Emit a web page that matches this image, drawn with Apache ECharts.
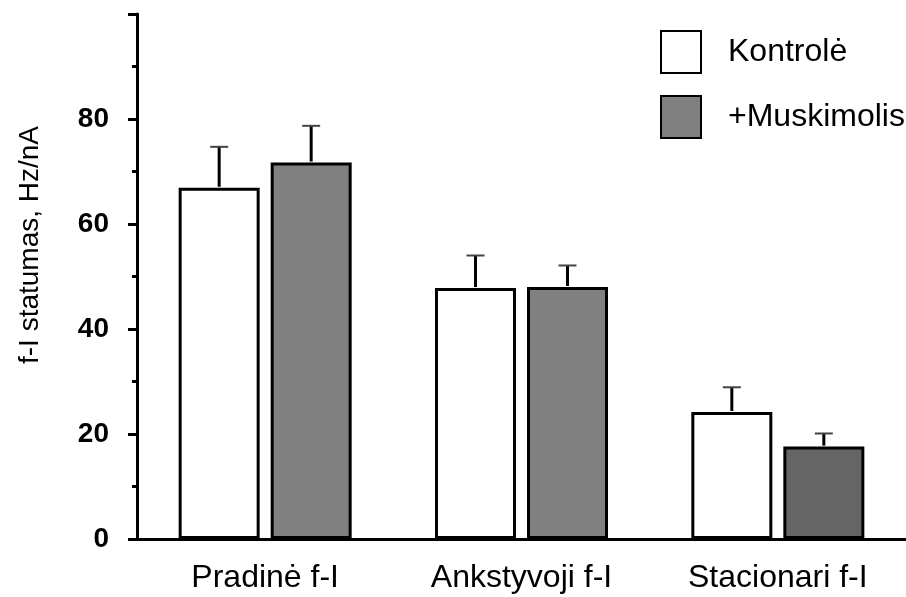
<!DOCTYPE html>
<html>
<head>
<meta charset="utf-8">
<script src="https://cdn.jsdelivr.net/npm/echarts@6/dist/echarts.min.js"></script>
<style>html,body{margin:0;padding:0;background:#fff}#c{width:906px;height:597px}</style>
</head>
<body>
<div id="c"></div>
<script>
const categories = ['Pradinė f-I', 'Ankstyvoji f-I', 'Stacionari f-I'];
const seriesNames = ['Kontrolė', '+Muskimolis'];
const kontrole = [66.9, 47.8, 24.2];
const kontroleErr = [7.8, 6.2, 4.7];
const muskimolis = [71.7, 48.0, 17.6];
const muskimolisErr = [7.0, 4.1, 2.5];
const yTicks = [0, 20, 40, 60, 80];
const yName = 'f-I statumas, Hz/nA';

const FONT = '"Liberation Sans", Arial, sans-serif';
const BAR_W = 81, GAP = 11;
const OFF = (BAR_W + GAP) / 2;

function errSeries(vals, errs, dir) {
  return {
    type: 'custom',
    z: 5,
    data: vals.map((v, i) => [i, v, v + errs[i]]),
    renderItem: function (params, api) {
      const p0 = api.coord([api.value(0), api.value(1)]);
      const p1 = api.coord([api.value(0), api.value(2)]);
      const x = p0[0] + dir * OFF;
      return {
        type: 'group',
        children: [
          { type: 'line', shape: { x1: x, y1: p0[1] - 1, x2: x, y2: p1[1] }, style: { stroke: '#000', lineWidth: 3 } },
          { type: 'line', shape: { x1: x - 9, y1: p1[1], x2: x + 9, y2: p1[1] }, style: { stroke: '#444', lineWidth: 2 } }
        ]
      };
    }
  };
}

const chart = echarts.init(document.getElementById('c'));
chart.setOption({
  animation: false,
  backgroundColor: '#fff',
  grid: { left: 137, right: 0, top: 14, bottom: 58, containLabel: false },
  legend: {
    orient: 'vertical', left: 655, top: 25,
    itemWidth: 40, itemHeight: 42, itemGap: 21,
    icon: 'rect',
    data: seriesNames,
    itemStyle: { borderColor: '#000', borderWidth: 2 },
    textStyle: { fontFamily: FONT, fontSize: 32, color: '#000', padding: [0, 0, 0, 22] }
  },
  xAxis: {
    type: 'category', data: categories,
    axisLine: { lineStyle: { color: '#000', width: 3 } },
    axisTick: { show: false },
    axisLabel: { fontFamily: FONT, fontSize: 32, color: '#000', margin: 23 }
  },
  yAxis: {
    type: 'value', min: 0, max: 100, interval: 20,
    axisLine: { show: true, lineStyle: { color: '#000', width: 3 } },
    axisTick: { show: true, length: 9, lineStyle: { color: '#000', width: 3 } },
    minorTick: { show: true, splitNumber: 2, length: 5, lineStyle: { color: '#000', width: 3 } },
    splitLine: { show: false },
    axisLabel: {
      fontFamily: FONT, fontSize: 28, fontWeight: 'bold', color: '#000', margin: 28,
      formatter: v => (yTicks.indexOf(v) >= 0 ? String(v) : '')
    }
  },
  graphic: [{
    type: 'text', x: 30, y: 245,
    rotation: Math.PI / 2,
    style: { text: yName, font: '28px ' + FONT, fill: '#000', textAlign: 'center', textVerticalAlign: 'middle' }
  }],
  series: [
    {
      name: seriesNames[0], type: 'bar', barWidth: BAR_W, barGap: (GAP / BAR_W * 100).toFixed(1) + '%',
      data: kontrole,
      itemStyle: { color: '#fff', borderColor: '#000', borderWidth: 3 }
    },
    {
      name: seriesNames[1], type: 'bar', barWidth: BAR_W,
      data: muskimolis.map((v, i) => i === 2 ? { value: v, itemStyle: { color: '#656565' } } : v),
      itemStyle: { color: '#808080', borderColor: '#000', borderWidth: 3 }
    },
    errSeries(kontrole, kontroleErr, -1),
    errSeries(muskimolis, muskimolisErr, 1)
  ]
});
</script>
</body>
</html>
